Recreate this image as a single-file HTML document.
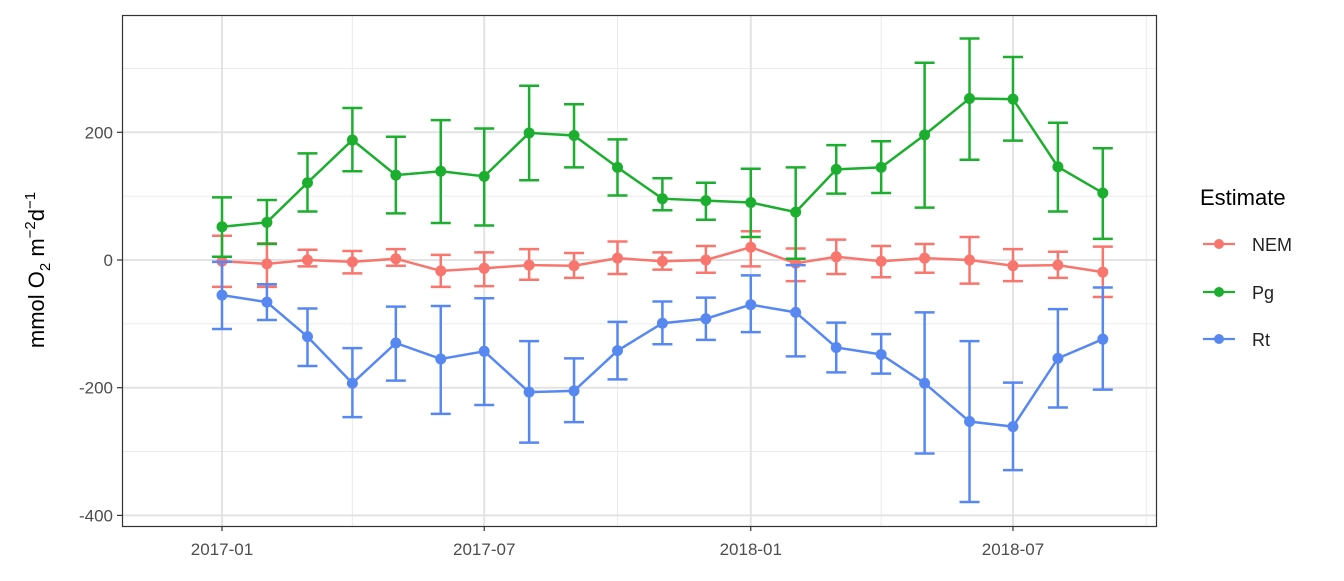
<!DOCTYPE html>
<html><head><meta charset="utf-8"><style>
body{margin:0;background:#fff;font-family:"Liberation Sans",Arial,sans-serif;}
svg text{font-family:"Liberation Sans",Arial,sans-serif;}
</style></head><body>
<svg id="chart" width="1344" height="576" xmlns="http://www.w3.org/2000/svg">
<rect x="0" y="0" width="1344" height="576" fill="#fff"/>
<g id="grid"></g>
<g id="series"></g>
<rect x="122.5" y="15.5" width="1034" height="511" fill="none" stroke="#333" stroke-width="1.2"/>
<g id="axes"></g>
<text transform="translate(44,270) rotate(-90)" text-anchor="middle" font-size="22" fill="#000">mmol O<tspan font-size="15" dy="6">2</tspan><tspan dy="-6"> m</tspan><tspan font-size="15" dy="-9">−2</tspan><tspan dy="9">d</tspan><tspan font-size="15" dy="-9">−1</tspan></text>
<g>
<text x="1200" y="205" font-size="22" fill="#000">Estimate</text>
<g><line x1="1203" x2="1235" y1="244" y2="244" stroke="#F8766D" stroke-width="2.2"/><circle cx="1219" cy="244" r="5" fill="#F8766D"/><text x="1252" y="251" font-size="18" fill="#222">NEM</text></g>
<g><line x1="1203" x2="1235" y1="292" y2="292" stroke="#1CAE2E" stroke-width="2.2"/><circle cx="1219" cy="292" r="5" fill="#1CAE2E"/><text x="1252" y="299" font-size="18" fill="#222">Pg</text></g>
<g><line x1="1203" x2="1235" y1="339" y2="339" stroke="#5788F2" stroke-width="2.2"/><circle cx="1219" cy="339" r="5" fill="#5788F2"/><text x="1252" y="346" font-size="18" fill="#222">Rt</text></g>
</g>
</svg>
<script>
const months = ["2017-01","2017-02","2017-03","2017-04","2017-05","2017-06","2017-07","2017-08","2017-09","2017-10","2017-11","2017-12","2018-01","2018-02","2018-03","2018-04","2018-05","2018-06","2018-07","2018-08","2018-09"];
const pgValues = [52,59,121,188,133,139,131,199,195,145,96,93,90,75,142,145,196,253,252,146,105];
const pgLow = [5,25,76,139,73,58,54,125,145,101,78,63,36,2,104,105,82,157,187,76,33];
const pgHigh = [98,94,167,238,193,219,206,273,244,189,128,121,143,145,180,186,309,347,318,215,175];
const nemValues = [-2,-6,0,-3,2,-17,-13,-8,-9,3,-2,0,20,-5,5,-2,3,0,-9,-8,-19];
const nemLow = [-42,-42,-10,-21,-9,-42,-41,-31,-28,-22,-15,-20,-10,-33,-22,-27,-20,-37,-33,-28,-58];
const nemHigh = [38,26,16,14,17,8,12,17,11,29,12,22,45,18,32,22,25,36,17,13,21];
const rtValues = [-55,-66,-120,-193,-130,-155,-143,-207,-205,-142,-99,-92,-70,-82,-137,-148,-193,-253,-261,-154,-124];
const rtLow = [-108,-94,-166,-246,-189,-241,-227,-286,-254,-187,-132,-125,-113,-151,-176,-178,-303,-379,-329,-231,-203];
const rtHigh = [-3,-38,-76,-138,-73,-72,-60,-127,-154,-97,-65,-59,-24,-8,-98,-116,-82,-127,-192,-77,-43];
const yTicks = [-400,-200,0,200];
const yMinor = [-300,-100,100,300];
const xTicks = ["2017-01","2017-07","2018-01","2018-07"];
const xMinor = ["2017-04","2017-10","2018-04","2018-10"];

const NS="http://www.w3.org/2000/svg";
const d0 = Date.UTC(2017,0,1);
function days(s){const [y,m]=s.split("-").map(Number);return (Date.UTC(y,m-1,1)-d0)/86400000;}
function xs(s){return 222+days(s)*1.4487;}
function ys(v){return 260-v*0.6385;}
function mk(parent,tag,attrs){const e=document.createElementNS(NS,tag);for(const k in attrs)e.setAttribute(k,attrs[k]);parent.appendChild(e);return e;}
const grid=document.getElementById('grid'), ser=document.getElementById('series'), axes=document.getElementById('axes');
yMinor.forEach(v=>{const l=mk(grid,'line',{x1:122,x2:1156,y1:ys(v),y2:ys(v),stroke:'#ebebeb','stroke-width':1});

});
xMinor.forEach(s=>{const l=mk(grid,'line',{x1:xs(s),x2:xs(s),y1:15,y2:526,stroke:'#ebebeb','stroke-width':1});

});
yTicks.forEach(v=>{const l=mk(grid,'line',{x1:122,x2:1156,y1:ys(v),y2:ys(v),stroke:'#e3e3e3','stroke-width':2});


const t=mk(axes,'line',{x1:117,x2:122,y1:ys(v),y2:ys(v),stroke:'#333','stroke-width':1.2});


const tx=mk(axes,'text',{x:113,y:ys(v)+6,'text-anchor':'end','font-size':17,fill:'#4d4d4d'});tx.textContent=v;

});
xTicks.forEach(s=>{const l=mk(grid,'line',{x1:xs(s),x2:xs(s),y1:15,y2:526,stroke:'#e3e3e3','stroke-width':2});


const t=mk(axes,'line',{x1:xs(s),x2:xs(s),y1:526,y2:531,stroke:'#333','stroke-width':1.2});


const tx=mk(axes,'text',{x:xs(s),y:555,'text-anchor':'middle','font-size':17,fill:'#4d4d4d'});tx.textContent=s;

});
function drawSeries(name,vals,lo,hi,col){
  const g=mk(ser,'g',{});
  
  
  vals.forEach((v,i)=>{const x=xs(months[i]);
    const e=mk(g,'path',{d:`M${x-10},${ys(hi[i])}H${x+10}M${x},${ys(hi[i])}V${ys(lo[i])}M${x-10},${ys(lo[i])}H${x+10}`,stroke:col,'stroke-width':2.5,fill:'none'});
    
    });
  const p=mk(g,'polyline',{points:vals.map((v,i)=>xs(months[i])+','+ys(v)).join(' '),fill:'none',stroke:col,'stroke-width':2.5});
  
  
  vals.forEach((v,i)=>{const c=mk(g,'circle',{cx:xs(months[i]),cy:ys(v),r:5.5,fill:col});
    
    });
}
drawSeries('nem',nemValues,nemLow,nemHigh,'#F8766D');
drawSeries('pg',pgValues,pgLow,pgHigh,'#1CAE2E');
drawSeries('rt',rtValues,rtLow,rtHigh,'#5788F2');
</script>
</body></html>
